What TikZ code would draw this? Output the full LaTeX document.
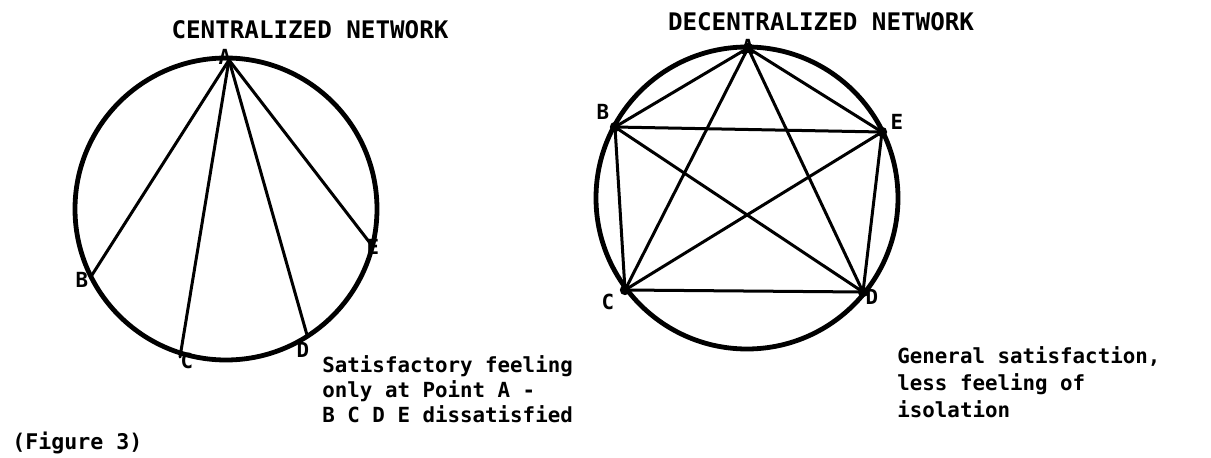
\documentclass[tikz,border=0pt]{standalone}
\usepackage{fontspec}
\setmonofont{DejaVu Sans Mono}
\begin{document}
\begin{tikzpicture}[x=0.5pt, y=0.5pt, line join=round, line cap=round]
    \tikzset{
        rim/.style={line width=2.4pt},
        chord/.style={line width=1.5pt},
        ttl/.style={font=\ttfamily\bfseries\fontsize{12.1}{13}\selectfont, inner sep=0pt, anchor=base},
        lbl/.style={font=\ttfamily\bfseries\fontsize{10.4}{12}\selectfont, inner sep=0pt},
        note/.style={font=\ttfamily\bfseries\fontsize{10.4}{12.5}\selectfont, inner sep=0pt, align=left, anchor=north west}
    }
    \useasboundingbox (0,0) rectangle (1211,457);

    % centralized network
    \coordinate (cL) at (226,248);
    \coordinate (lA) at (229,397);
    \coordinate (lB) at (92,182);
    \coordinate (lC) at (180,100);
    \coordinate (lD) at (307,122);
    \coordinate (lE) at (370,214);
    \draw[rim] (cL) circle [radius=75.5pt];
    \path[chord]
    (lA) edge (lB)
         edge (lC)
         edge (lD)
         edge (lE);
    \node[ttl] (titleL) at (310,419) {CENTRALIZED NETWORK};
    \node[lbl] (labA1) at (225,400) {A};
    \node[lbl] (labB1) at (82,177) {B};
    \node[lbl] (labC1) at (187,96) {C};
    \node[lbl] (labD1) at (303,107) {D};
    \node[lbl] (labE1) at (373,210) {E};
    \node[note] (noteL) at (322,102) {Satisfactory feeling\\only at Point A -\\B C D E dissatisfied};

    % decentralized network
    \coordinate (cR) at (747,259);
    \coordinate (rA) at (748,409);
    \coordinate (rB) at (615,330);
    \coordinate (rE) at (882,325);
    \coordinate (rC) at (625,167);
    \coordinate (rD) at (863,165);
    \draw[rim] (cR) circle [radius=75.5pt];
    \path[chord]
    (rA) edge (rB)
         edge (rC)
         edge (rD)
         edge (rE)
    (rB) edge (rC)
         edge (rD)
         edge (rE)
    (rC) edge (rD)
         edge (rE)
    (rD) edge (rE);
    \foreach \v in {rA,rB,rC,rD,rE}
        \fill (\v) circle (2.6pt);
    \node[ttl] (titleR) at (821,427) {DECENTRALIZED NETWORK};
    \node[lbl] (labA2) at (748,410) {A};
    \node[lbl] (labB2) at (603,345) {B};
    \node[lbl] (labE2) at (897,335) {E};
    \node[lbl] (labC2) at (608,155) {C};
    \node[lbl] (labD2) at (872,160) {D};
    \node[note, font=\ttfamily\bfseries\fontsize{10.4}{13.5}\selectfont] (noteR) at (897,111) {General satisfaction,\\less feeling of\\isolation};

    \node[lbl, font=\ttfamily\bfseries\fontsize{10.8}{12}\selectfont, anchor=base west] (fig) at (12,8) {(Figure 3)};
\end{tikzpicture}
\end{document}
